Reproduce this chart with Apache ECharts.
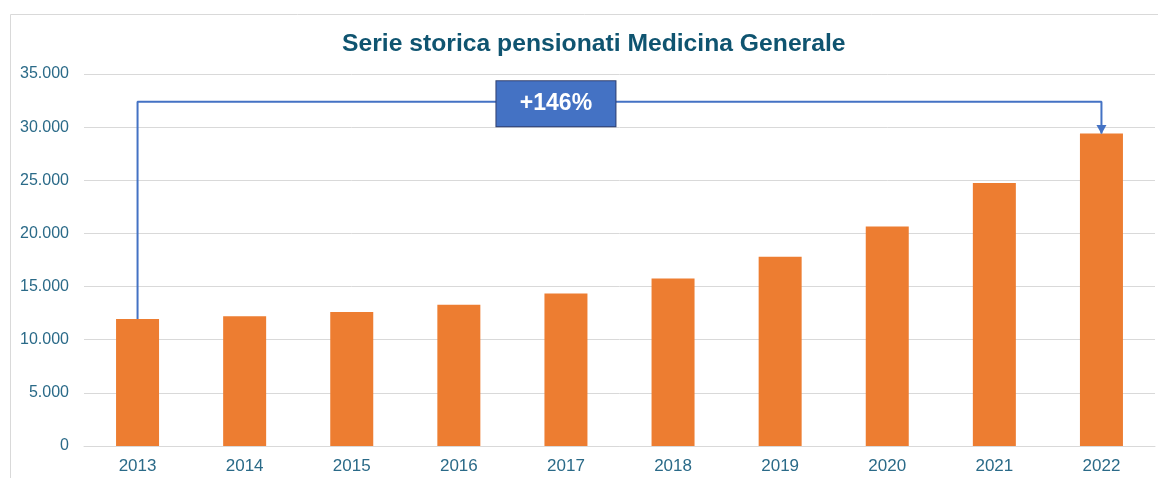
<!DOCTYPE html>
<html>
<head>
<meta charset="utf-8">
<script src="https://cdn.jsdelivr.net/npm/echarts@6/dist/echarts.min.js"></script>
<style>
  html, body { margin: 0; padding: 0; background: #fff; }
  #chart { width: 1158px; height: 478px; }
</style>
</head>
<body>
<div id="chart"></div>
<script>
// dati
const anni = ['2013', '2014', '2015', '2016', '2017', '2018', '2019', '2020', '2021', '2022']
const pensionati = [11950, 12200, 12600, 13300, 14350, 15750, 17800, 20650, 24750, 29400]
const yTicks = [0, 5000, 10000, 15000, 20000, 25000, 30000, 35000]
const variazione = '+146%'
const livelloFreccia = 32400 // altezza del collegamento 2013 -> 2022

const fmt = (v) => String(v).replace(/\B(?=(\d{3})+(?!\d))/g, '.')

const myChart = echarts.init(document.getElementById('chart'))

// percorso della freccia: sopra la prima barra, su, a destra, giù sull'ultima
const primo = anni[0]
const ultimo = anni[anni.length - 1]
const freccia = [
  { value: [primo, pensionati[0]], symbol: 'none' },
  { value: [primo, livelloFreccia], symbol: 'none' },
  { value: [ultimo, livelloFreccia], symbol: 'none' },
  {
    value: [ultimo, pensionati[pensionati.length - 1]],
    symbol: 'triangle',
    symbolSize: [10, 9],
    symbolRotate: 180,
    symbolOffset: [0, -4]
  }
]

const options = {
  animation: false,
  title: {
    text: 'Serie storica pensionati Medicina Generale',
    left: 337,
    top: 27,
    textStyle: {
      fontFamily: 'Liberation Sans, Arial, sans-serif',
      fontSize: 24.7,
      fontWeight: 'bold',
      color: '#0F5470'
    }
  },
  graphic: [{
    type: 'rect',
    shape: { x: 10.5, y: 14.5, width: 1160, height: 480 },
    style: { fill: 'none', stroke: '#D9D9D9', lineWidth: 1 },
    silent: true
  }],
  grid: {
    left: 84,
    right: 3,
    top: 74,
    bottom: 32
  },
  xAxis: {
    type: 'category',
    data: anni,
    axisLine: { lineStyle: { color: '#D9D9D9' } },
    axisTick: { show: false },
    axisLabel: {
      color: '#2A6A88',
      fontFamily: 'Liberation Sans, Arial, sans-serif',
      fontSize: 17,
      margin: 12
    }
  },
  yAxis: {
    type: 'value',
    min: yTicks[0],
    max: yTicks[yTicks.length - 1],
    interval: yTicks[1] - yTicks[0],
    axisLine: { show: false },
    axisTick: { show: false },
    splitLine: { lineStyle: { color: '#D9D9D9' } },
    axisLabel: {
      color: '#2A6A88',
      fontFamily: 'Liberation Sans, Arial, sans-serif',
      fontSize: 16,
      margin: 15,
      formatter: fmt
    }
  },
  series: [
    {
      type: 'bar',
      data: pensionati,
      barWidth: 43,
      itemStyle: { color: '#ED7D31' }
    },
    {
      type: 'line',
      data: freccia,
      lineStyle: { color: '#4472C4', width: 2 },
      itemStyle: { color: '#4472C4' },
      z: 5
    },
    {
      type: 'scatter',
      data: [[anni[4], livelloFreccia]],
      symbolSize: 0,
      itemStyle: { opacity: 1 },
      z: 6,
      label: {
        show: true,
        position: 'inside',
        offset: [-10, 2],
        formatter: variazione,
        color: '#fff',
        fontFamily: 'Liberation Sans, Arial, sans-serif',
        fontSize: 23,
        fontWeight: 'bold',
        backgroundColor: '#4472C4',
        borderColor: '#2F3F6F',
        borderWidth: 1,
        width: 119,
        height: 45,
        lineHeight: 45,
        align: 'center',
        verticalAlign: 'middle'
      }
    }
  ]
}

myChart.setOption(options)
</script>
</body>
</html>
